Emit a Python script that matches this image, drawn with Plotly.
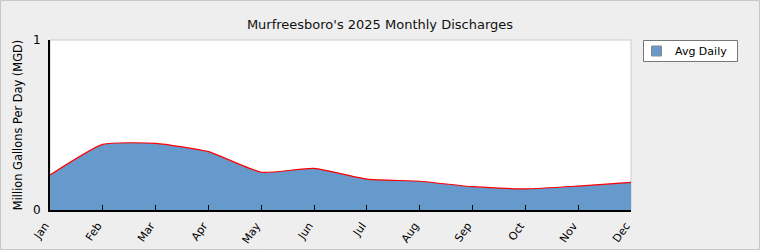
import plotly.graph_objects as go

months = ["Jan", "Feb", "Mar", "Apr", "May", "Jun", "Jul", "Aug", "Sep", "Oct", "Nov", "Dec"]
avg_daily = [0.206, 0.386, 0.392, 0.343, 0.222, 0.245, 0.182, 0.169, 0.137, 0.124, 0.141, 0.163]
series_name = "Avg Daily"

L, R, T, B = 50, 129, 40, 40
W, H = 760, 250
pw = W - L - R
ph = H - T - B


def px(x):
    return (x - L) / pw


def py(y):
    return (T + ph - y) / ph


fig = go.Figure()
fig.add_trace(go.Scatter(
    x=months, y=avg_daily, mode="lines", showlegend=False,
    fill="tozeroy", fillcolor="#6699cc",
    line=dict(width=0, shape="spline", smoothing=0.5, color="#6699cc"),
    hoverinfo="skip",
))
fig.add_trace(go.Scatter(
    x=months, y=avg_daily, mode="lines", showlegend=False, name=series_name,
    line=dict(width=1.2, shape="spline", smoothing=0.5, color="#ff0000"),
))

fig.update_layout(
    width=W, height=H,
    margin=dict(l=L, r=R, t=T, b=B, pad=0),
    paper_bgcolor="#eeeeee", plot_bgcolor="#ffffff",
    font=dict(family="DejaVu Sans", size=11, color="#000000"),
    title=dict(text="Murfreesboro's 2025 Monthly Discharges", x=0.5, xref="container",
               y=1 - 24 / H, yanchor="middle", xanchor="center",
               font=dict(size=13, color="#111111")),
    showlegend=False,
    xaxis=dict(
        range=[0, 11], showgrid=False, zeroline=False, automargin=False,
        showline=True, linecolor="#000000", linewidth=2,
        ticks="inside", ticklen=5, tickcolor="#000000", tickwidth=1,
        tickangle=-55, tickfont=dict(size=11),
        ticklabelstandoff=3, ticklabelshift=-5,
    ),
    yaxis=dict(
        range=[0, 1], tickvals=[0, 1], ticktext=["0", "1"], automargin=False,
        showgrid=False, zeroline=False,
        showline=True, linecolor="#000000", linewidth=2,
        ticks="inside", ticklen=5, tickcolor="#000000", tickwidth=2,
        tickfont=dict(size=12), ticklabelstandoff=5,
        title=dict(text="Million Gallons Per Day (MGD)", font=dict(size=11.4), standoff=8),
    ),
)

# plot area frame (light) and outer figure border
fig.add_shape(type="rect", xref="paper", yref="paper", x0=0, x1=1, y0=0, y1=1,
              line=dict(color="#cccccc", width=1), layer="below")
fig.add_shape(type="rect", xref="paper", yref="paper",
              x0=px(0.5), x1=px(W - 0.5), y0=py(H - 0.5), y1=py(0.5),
              line=dict(color="#c8c8c8", width=1), layer="below")

# legend box drawn manually
fig.add_shape(type="rect", xref="paper", yref="paper",
              x0=px(643.5), x1=px(737.5), y0=py(61.5), y1=py(40.5),
              fillcolor="#ffffff", line=dict(color="#777777", width=1))
fig.add_shape(type="rect", xref="paper", yref="paper",
              x0=px(651.5), x1=px(661.5), y0=py(56), y1=py(46),
              fillcolor="#6699cc", line=dict(color="#888888", width=1))
fig.add_annotation(text=series_name, xref="paper", yref="paper",
                   x=px(673), y=py(51), xanchor="left", yanchor="middle",
                   showarrow=False, font=dict(size=11, color="#000000"))

fig.write_html("out.html")
